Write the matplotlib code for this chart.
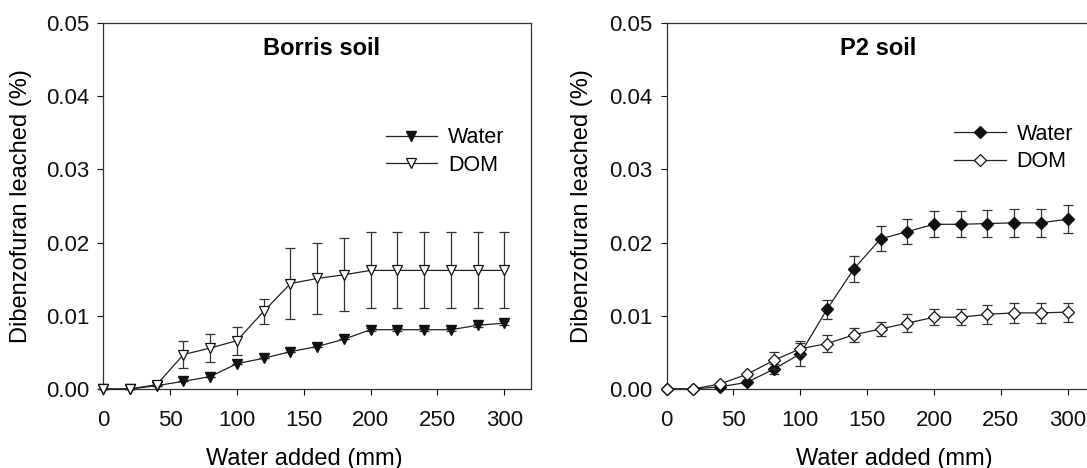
import matplotlib
matplotlib.use('Agg')
import matplotlib.pyplot as plt
from matplotlib.lines import Line2D

plt.rcParams['font.family'] = ['Liberation Sans', 'DejaVu Sans']

water_added = [0, 20, 40, 60, 80, 100, 120, 140, 160, 180, 200, 220, 240, 260, 280, 300]

# Borris soil
borris_water = [0, 0, 0.00046, 0.00105, 0.0017, 0.00346, 0.0042, 0.0051, 0.0058, 0.0068,
                0.0081, 0.0081, 0.0081, 0.0081, 0.0087, 0.009]
borris_water_err = [0, 0, 0, 0, 0, 0, 0, 0, 0, 0, 0.0002, 0.0002, 0.0002, 0.0002, 0.0002, 0.0003]
borris_dom = [0, 0, 0.0006, 0.0047, 0.0056, 0.0066, 0.0106, 0.0144, 0.0151, 0.0156,
              0.0162, 0.0162, 0.0162, 0.0162, 0.0162, 0.0162]
borris_dom_err = [0, 0, 0, 0.0018, 0.0019, 0.0019, 0.0017, 0.0048, 0.0048, 0.005,
                  0.0052, 0.0052, 0.0052, 0.0052, 0.0052, 0.0052]

# P2 soil
p2_water = [0, 0, 0.0003, 0.0009, 0.0027, 0.0048, 0.0109, 0.0164, 0.0205, 0.0215,
            0.0225, 0.0225, 0.0226, 0.0227, 0.0227, 0.0232]
p2_water_err = [0, 0, 0, 0.0002, 0.0007, 0.0017, 0.0013, 0.0018, 0.0017, 0.0017,
                0.0018, 0.0018, 0.0018, 0.0019, 0.0019, 0.0019]
p2_dom = [0, 0, 0.0007, 0.002, 0.0039, 0.0055, 0.0062, 0.0074, 0.0082, 0.009,
          0.0098, 0.0098, 0.0102, 0.0104, 0.0104, 0.0105]
p2_dom_err = [0, 0, 0, 0.0002, 0.0012, 0.0008, 0.0012, 0.001, 0.001, 0.0012,
              0.0011, 0.0011, 0.0013, 0.0014, 0.0014, 0.0013]

yticks = [0.00, 0.01, 0.02, 0.03, 0.04, 0.05]
xticks = [0, 50, 100, 150, 200, 250, 300]

fig = plt.figure(figsize=(10.87, 4.68), dpi=100)
ax1 = fig.add_axes([0.0950, 0.1688, 0.3935, 0.7821])
ax2 = fig.add_axes([0.6133, 0.1688, 0.3935, 0.7821])

# axes, title, series, marker, marker size, ylabel x, xlabel x, title x, legend anchor
panels = [
    (ax1, 'Borris soil', borris_water, borris_water_err, borris_dom, borris_dom_err,
     'v', 7.5, -0.167, 0.469, 0.51, (0.66, 0.715)),
    (ax2, 'P2 soil', p2_water, p2_water_err, p2_dom, p2_dom_err,
     'D', 6.5, -0.172, 0.533, 0.495, (0.672, 0.725)),
]

line_c = '#222222'
edge_c = '#111111'

for ax, title, w, we, d, de, mk, ms, ylx, xlx, tx, anchor in panels:
    ax.errorbar(water_added, w, yerr=we, fmt='-', marker=mk, ms=ms, color=line_c,
                mfc=edge_c, mec=edge_c, lw=0.9, elinewidth=0.9, ecolor='#333333',
                capsize=3.5, capthick=0.9, clip_on=False, zorder=3)
    ax.errorbar(water_added, d, yerr=de, fmt='-', marker=mk, ms=ms, color=line_c,
                mfc='white', mec=edge_c, mew=0.9, lw=0.9, elinewidth=0.9, ecolor='#333333',
                capsize=3.5, capthick=0.9, clip_on=False, zorder=4)
    ax.set_xlim(0, 320)
    ax.set_ylim(0, 0.05)
    ax.set_xticks(xticks)
    ax.set_yticks(yticks)
    ax.set_yticklabels(['%.2f' % t for t in yticks])
    ax.tick_params(direction='out', length=4, width=0.8, labelsize=16, colors='#111111')
    ax.tick_params(axis='x', pad=11)
    ax.tick_params(axis='y', pad=6)
    for sp in ax.spines.values():
        sp.set_linewidth(0.9)
        sp.set_color('#333333')
    ax.set_xlabel('Water added (mm)', fontsize=17)
    ax.set_ylabel('Dibenzofuran leached (%)', fontsize=17)
    ax.xaxis.set_label_coords(xlx, -0.16)
    ax.yaxis.set_label_coords(ylx, 0.5)
    ax.text(tx, 0.93, title, transform=ax.transAxes, ha='center', va='center',
            fontsize=17, fontweight='bold')
    handles = [
        Line2D([], [], color=line_c, lw=0.9, marker=mk, ms=ms, mfc=edge_c, mec=edge_c),
        Line2D([], [], color=line_c, lw=0.9, marker=mk, ms=ms, mfc='white', mec=edge_c, mew=0.9),
    ]
    ax.legend(handles, ['Water', 'DOM'], loc='upper left', bbox_to_anchor=anchor,
              frameon=False, fontsize=15.5, handlelength=2.4, handletextpad=0.5,
              labelspacing=0.3, borderaxespad=0, borderpad=0)

fig.savefig('out.png', dpi=100)
